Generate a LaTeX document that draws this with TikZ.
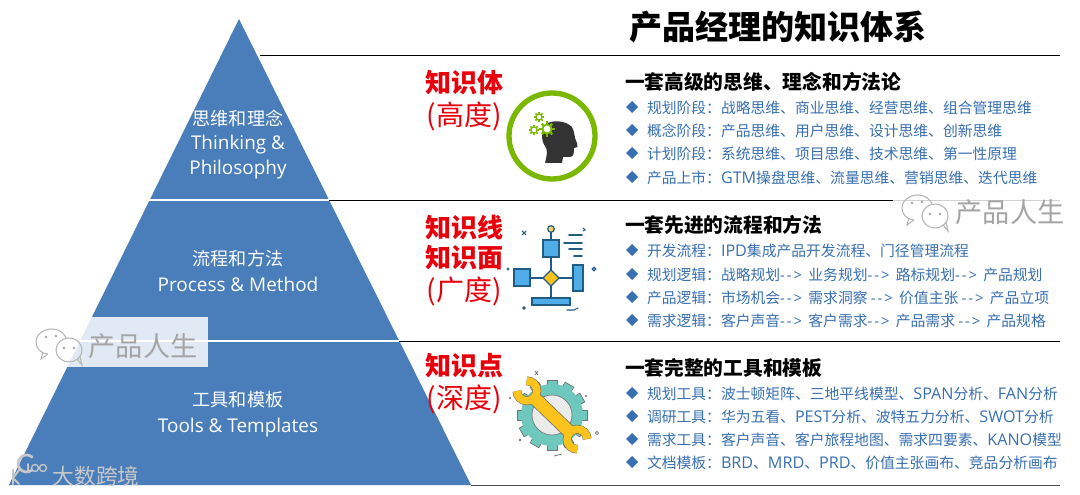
\documentclass[tikz,border=0pt]{standalone}
\usepackage{fontspec}
\setmainfont{Noto Sans CJK SC}
\newfontfamily\latinf{Open Sans}
\usetikzlibrary{shapes.geometric}
\definecolor{pyr}{HTML}{4A7EBB}
\definecolor{itemc}{HTML}{376FB0}
\definecolor{redc}{HTML}{E8000B}
\definecolor{wm}{HTML}{A4A4A4}
\definecolor{gr}{HTML}{7AB800}
\definecolor{fb}{HTML}{4FAEE8}
\definecolor{fd}{HTML}{1F5C86}
\definecolor{teal1}{HTML}{6FC8BE}
\definecolor{yel}{HTML}{FBC31C}
\newcommand{\fs}[1]{\fontsize{#1}{#1}\selectfont}
\newcommand{\lat}[1]{{\latinf\fs{12.1}#1}}
\newcommand{\arr}{{\latinf\fs{11.1}-\kern1.5pt-\kern1.5pt>\kern2.2pt}}
\tikzset{
 every node/.style={inner sep=0pt,outer sep=0pt},
 pyrtxt/.style={text=white,font=\fs{13.6}},
 pyrlat/.style={text=white,font=\latinf\fs{14.2},text height=10pt,text depth=3pt,yshift=-1pt},
 head/.style={anchor=west,text=black,font=\bfseries\fs{14.8},yshift=-0.75pt},
 item/.style={anchor=west,text=itemc,font=\fs{11.1},yshift=-0.75pt},
 bul/.style={diamond,fill=itemc,minimum width=9pt,minimum height=9pt},
 redb/.style={text=redc,font=\bfseries\fs{19.5}},
 redn/.style={text=redc,font=\fs{21},yshift=-1pt},
 rule/.style={line width=0.6pt,black},
 wline/.style={line width=1.3pt,white},
 wmt/.style={text=wm,font=\fs{20.4}},
 wic/.style={draw=wm!80,line width=0.8pt,fill=none},
 ln/.style={line width=1.2pt,fd,line cap=round},
 bx/.style={fill=fb,draw=fd,line width=0.9pt},
 logo/.style={white!78!black,line cap=round},
}
\newcommand{\gear}[4]{% x y r fill
 \foreach \a in {0,45,...,315}{\fill[#4,rotate around={\a:(#1,#2)}] (#1-0.2*#3,#2-#3*1.35) rectangle (#1+0.2*#3,#2);}
 \fill[#4] (#1,#2) circle[radius=#3];}
\newcommand{\wechat}[2]{% x y of left bubble centre
 \begin{scope}[shift={(#1,#2)}]
 \draw[wic] (-4,12) .. controls (-13,11) and (-16,5) .. (-16,0) .. controls (-16,-8) and (-8,-13) .. (0,-13) .. controls (7,-13) and (12,-9) .. (14,-4);
 \draw[wic] (-4,12) -- (-11,17) -- (-9,10);
 \draw[wic] (17,8) ellipse[x radius=13,y radius=12];
 \draw[wic] (25,17) -- (30,23) -- (28,14);
 \fill[wm] (-6,-5) circle[radius=1.3] (4,-6) circle[radius=1.3] (12,6) circle[radius=1.3] (22,6) circle[radius=1.3];
 \end{scope}}
\begin{document}
\begin{tikzpicture}[x=0.75pt,y=-0.75pt]
\useasboundingbox (0,0) rectangle (1080,495);
% pyramid
\fill[pyr] (239,19) -- (471,485) -- (9,485) -- cycle;
\coordinate (r0) at (260,55); \coordinate (r0e) at (1060,55);
\coordinate (r1) at (329,200); \coordinate (r1l) at (149,200); \coordinate (r1e) at (1060,200);
\coordinate (r2) at (399,341); \coordinate (r2l) at (79,341); \coordinate (r2e) at (1060,341);
\coordinate (r3) at (471,485.5); \coordinate (r3e) at (1060,485.5);
\draw[wline] (r1l) -- (r1);
\draw[wline] (r2l) -- (r2);
\draw[rule] (r0) -- (r0e);
\draw[rule] (r1) -- (r1e);
\draw[rule] (r2) -- (r2e);
\draw[line width=0.6pt,black!70] (r3) -- (r3e);
% title
\node (title) at (778,27) [font=\bfseries\fs{24.8}] {产品经理的知识体系};
% pyramid labels
\node[pyrtxt] (p1a) at (238,118) {思维和理念};
\node[pyrlat] (p1b) at (238,144) {Thinking \&};
\node[pyrlat] (p1c) at (238,169) {Philosophy};
\node[pyrtxt] (p2a) at (238,259) {流程和方法};
\node[pyrlat] (p2b) at (238,285) {Process \& Method};
\node[pyrtxt] (p3a) at (238,400) {工具和模板};
\node[pyrlat] (p3b) at (238,426) {Tools \& Templates};
% red labels
\node[redb] (r1a) at (464,83) {知识体};
\node[redn] (r1b) at (464,115) {(高度)};
\node[redb] (r2a) at (464,228) {知识线};
\node[redb] (r2b) at (464,258) {知识面};
\node[redn] (r2c) at (464,290) {(广度)};
\node[redb] (r3a) at (464,366) {知识点};
\node[redn] (r3b) at (464,398) {(深度)};
% headings
\node[head] (h1) at (625,81) {一套高级的思维、理念和方法论};
\node[head] (h2) at (625,224) {一套先进的流程和方法};
\node[head] (h3) at (625,367) {一套完整的工具和模板};
% items
\foreach \n/\y/\t in {
 a1/107/规划阶段：战略思维、商业思维、经营思维、组合管理思维,
 a2/130/概念阶段：产品思维、用户思维、设计思维、创新思维,
 a3/153/计划阶段：系统思维、项目思维、技术思维、第一性原理,
 a4/177/产品上市：\lat{GTM}操盘思维、流量思维、营销思维、迭代思维,
 b1/250/开发流程：\lat{IPD}集成产品开发流程、门径管理流程,
 b2/274/规划逻辑：战略规划\arr{} 业务规划\arr{} 路标规划\arr{} 产品规划,
 b3/297/产品逻辑：市场机会\arr{} 需求洞察 \arr{} 价值主张 \arr{} 产品立项,
 b4/320/需求逻辑：客户声音\arr{} 客户需求\arr{} 产品需求 \arr{} 产品规格,
 c1/393/规划工具：波士顿矩阵、三地平线模型、\lat{SPAN}分析、\lat{FAN}分析,
 c2/416/调研工具：华为五看、\lat{PEST}分析、波特五力分析、\lat{SWOT}分析,
 c3/439/需求工具：客户声音、客户旅程地图、需求四要素、\lat{KANO}模型,
 c4/462/文档模板：\lat{BRD}、\lat{MRD}、\lat{PRD}、价值主张画布、竞品分析画布}{
 \node[bul] (d\n) at (632,\y) {};
 \node[item] (t\n) at (647,\y) {\t};
}
% icon 1: head with gears
\draw[gr,line width=4pt] (552,136) circle[radius=43];
\fill[black!80] (546,124) .. controls (552,120) and (565,120) .. (572,127)
 .. controls (575,132) and (574,138) .. (577,143) -- (577.5,147) -- (574,148) .. controls (574,152) and (574,157) .. (570,157)
 -- (563,157) -- (562,163) -- (545,163) .. controls (547,155) and (548,150) .. (545,146) .. controls (541,141) and (541,130) .. (546,124) -- cycle;
\gear{539}{117}{3.8}{gr}
\gear{534}{130}{3.8}{gr}
\gear{547}{129}{5.6}{gr}
\fill[white] (539,117) circle[radius=2.2] (534,130) circle[radius=2.2] (547,129) circle[radius=3.4];
% icon 2: flowchart
\draw[ln] (551,232) -- (551,298);
\draw[ln] (530,278) -- (573,278);
\fill[yel!70] (551,229) circle[radius=3];
\draw[fd,line width=0.9pt] (551,229) circle[radius=3.3];
\draw[bx] (543,240) rectangle (559,257);
\draw[bx] (514,269) rectangle (530,286);
\draw[bx] (573,265) rectangle (583,291);
\draw[bx] (532,298) rectangle (570,305);
\draw[fill=yel,draw=fd,line width=1pt] (551,270) -- (559,278) -- (551,286) -- (543,278) -- cycle;
\draw[ln] (569,235) -- (582,235);
\draw[ln] (564,243) -- (582,243);
\draw[ln] (569,249) -- (582,249);
\draw[ln] (574,256) -- (582,256);
\draw[ln,line width=0.8pt] (567,310) -- (574,310) -- (578,308);
\draw[ln,line width=0.8pt] (583,228) -- (585,230) -- (583,231);
\draw[fd,line width=0.9pt] (594,269) circle[radius=1.8];
\fill[fd] (524,308) circle[radius=1.8];
\draw[fd,line width=0.5pt] (508,269) circle[radius=1.2];
\draw[fd,line width=0.8pt] (522,231) -- (526,235) (526,231) -- (522,235);
% icon 3: gear and wrench
\foreach \a in {0,30,...,330}{
 \fill[teal1,draw=black!55,line width=0.5pt,rotate around={\a:(552,415)}] (547,415) -- (547,380) -- (557,380) -- (557,415) -- cycle;}
\fill[teal1] (552,415) circle[radius=31];
\fill[black!8,draw=black!55,line width=0.5pt] (552,415) circle[radius=20];
\begin{scope}[rotate around={-44:(552,415)}]
 \draw[black!60,line width=6.6pt] (510,408) arc(-135:135:10);
 \draw[black!60,line width=6.6pt] (594,422) arc(45:315:10);
 \fill[yel,draw=black!60,line width=0.5pt] (530,408.5) rectangle (574,421.5);
 \draw[yel,line width=5.8pt] (510,408) arc(-135:135:10);
 \draw[yel,line width=5.8pt] (594,422) arc(45:315:10);
 \fill[yel] (528,409) rectangle (576,421);
\end{scope}
\fill[black!55] (520,440) circle[radius=1.3];
\draw[black!55,line width=0.6pt] (597,433) circle[radius=1.6];
\draw[black!55,line width=0.6pt] (554,456) -- (562,454);
\draw[black!55,line width=0.6pt] (535,371) -- (538,375) (538,371) -- (535,375);
\draw[black!55,line width=0.5pt] (585,395) -- (587,397) (587,395) -- (585,397);
\draw[black!55,line width=0.5pt] (509,397) -- (511,399) (511,397) -- (509,399);
% watermark boxes
\fill[white,opacity=0.84] (64,317) rectangle (208,367);
\fill[white,opacity=0.82] (893,190) rectangle (1072,232);
% watermark texts and icons
\node[wmt] (wm1) at (143,346) {产品人生};
\node[wmt] (wm2) at (1010,212) {产品人生};
\node[wmt,font=\fs{16.3},text=white!78!black] (wm3) at (96,476) {大数跨境};
\wechat{52}{342}
\wechat{918}{208}
\draw[logo,line width=2pt] (13,470) -- (13,484);
\draw[logo,line width=1.5pt] (13,478) -- (20,469) (13,478) -- (19,484);
\draw[logo,line width=2pt] (32,470) arc(50:310:8.5);
\draw[logo,line width=1.2pt] (28,464) -- (28,472);
\draw[logo,line width=1pt] (35,468) circle[radius=3.5] (43,468) circle[radius=3.5];
\end{tikzpicture}
\end{document}
